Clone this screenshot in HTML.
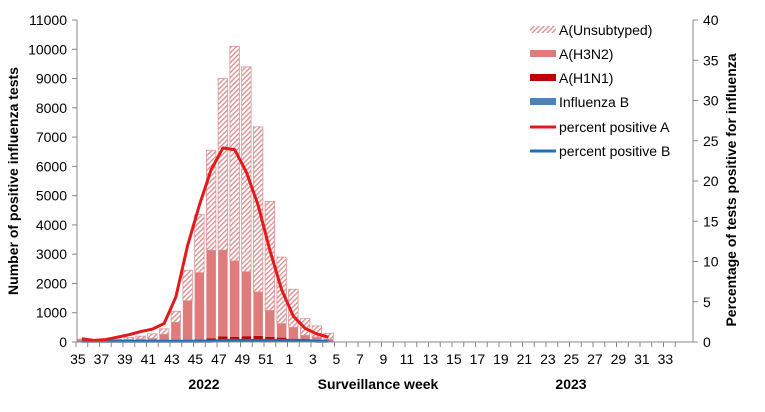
<!DOCTYPE html>
<html><head><meta charset="utf-8"><style>
body{margin:0;background:#fff;}
svg text{font-family:"Liberation Sans",Arial,sans-serif;}
</style></head><body>
<svg id="chart" width="765" height="407" xmlns="http://www.w3.org/2000/svg">
<defs><pattern id="hatch" width="3.5" height="3.5" patternUnits="userSpaceOnUse" patternTransform="rotate(45)"><rect width="3.5" height="3.5" fill="#fff"/><rect width="1.3" height="3.5" fill="#d98a8a"/></pattern></defs>
<g id="bars"></g>
<g id="lines"></g>
<g id="axes"></g>
<text x="18" y="181" font-size="14" font-weight="bold" text-anchor="middle" transform="rotate(-90 18 181)">Number of positive influenza tests</text>
<text x="736" y="190" font-size="14" font-weight="bold" text-anchor="middle" transform="rotate(-90 736 190)">Percentage of tests positive for influenza</text>
<text x="204" y="389" font-size="14" font-weight="bold" text-anchor="middle">2022</text>
<text x="378" y="389" font-size="14" font-weight="bold" text-anchor="middle">Surveillance  week</text>
<text x="571" y="389" font-size="14" font-weight="bold" text-anchor="middle">2023</text>
<g font-size="14">
<g><rect x="530" y="26" width="26" height="7" fill="url(#hatch)"/><text x="559" y="35">A(Unsubtyped)</text></g>
<g><rect x="530" y="50" width="26" height="7" fill="#e07b7b"/><text x="559" y="59">A(H3N2)</text></g>
<g><rect x="530" y="74" width="26" height="7" fill="#c00000"/><text x="559" y="83">A(H1N1)</text></g>
<g><rect x="530" y="98" width="26" height="7" fill="#4f81bd"/><text x="559" y="107">Influenza B</text></g>
<g><line x1="530" y1="127" x2="556" y2="127" stroke="#e31a1c" stroke-width="3"/><text x="559" y="132">percent positive A</text></g>
<g><line x1="530" y1="151" x2="556" y2="151" stroke="#1f6fb4" stroke-width="3"/><text x="559" y="156">percent positive B</text></g>
</g>
</svg>
<script>
const weeks=[35,36,37,38,39,40,41,42,43,44,45,46,47,48,49,50,51,52,1,2,3,4,5,6,7,8,9,10,11,12,13,14,15,16,17,18,19,20,21,22,23,24,25,26,27,28,29,30,31,32,33,34];
const totalPos=[100,50,80,100,150,200,280,450,1050,2450,4350,6550,9000,10100,9400,7350,4800,2900,1800,800,550,300];
const h3n2=[40,20,30,40,50,70,80,220,620,1350,2280,3000,2950,2600,2200,1500,900,480,400,170,120,50];
const h1n1=[10,5,5,5,5,5,10,10,20,30,50,80,130,110,140,150,120,90,50,20,10,5];
const fluB=[30,30,30,30,30,30,30,30,30,30,40,50,60,60,60,60,60,60,50,40,40,40];
const pctA=[0.4,0.2,0.3,0.6,0.9,1.3,1.6,2.3,5.6,12,17,21.4,24.1,23.9,21.1,17,11.4,6.5,3.2,1.7,1.0,0.6];
const pctB=[0.1,0.1,0.1,0.1,0.1,0.1,0.1,0.1,0.1,0.1,0.1,0.1,0.2,0.2,0.2,0.2,0.2,0.2,0.2,0.2,0.1,0.1];
const leftTicks=[0,1000,2000,3000,4000,5000,6000,7000,8000,9000,10000,11000];
const rightTicks=[0,5,10,15,20,25,30,35,40];
const NS="http://www.w3.org/2000/svg";
const X0=76,STEP=11.75,Y0=342,YT=20,X1=693;
const xc=i=>X0+(i+0.5)*STEP;
const yL=v=>Y0-v/11000*(Y0-YT);
const yR=v=>Y0-v/40*(Y0-YT);
function mk(tag,attrs,parent){const e=document.createElementNS(NS,tag);for(const k in attrs)e.setAttribute(k,attrs[k]);parent.appendChild(e);return e;}
const bars=document.getElementById('bars'),lines=document.getElementById('lines'),axes=document.getElementById('axes');
const bw=9.5;
for(let i=0;i<totalPos.length;i++){
  const segs=[[fluB[i],'#4f81bd','bar-influenza-b'],[h1n1[i],'#c00000','bar-h1n1'],[h3n2[i],'#e07b7b','bar-h3n2'],[Math.max(0,totalPos[i]-fluB[i]-h1n1[i]-h3n2[i]),'url(#hatch)','bar-unsubtyped']];
  let base=0;
  for(const s of segs){
    const r=mk('rect',{x:xc(i)-bw/2,y:yL(base+s[0]),width:bw,height:yL(base)-yL(base+s[0]),fill:s[1]},bars);
    if(s[2]==='bar-unsubtyped'){r.setAttribute('stroke','#d99594');r.setAttribute('stroke-width','0.8');}
    
    
    base+=s[0];
  }
}
function poly(arr,color,name){
  const p=mk('polyline',{points:arr.map((v,i)=>xc(i)+','+yR(v)).join(' '),fill:'none',stroke:color,'stroke-width':3,'stroke-linejoin':'round'},lines);
  
  
}
poly(pctB,'#1f6fb4','line-percent-b');
poly(pctA,'#e31a1c','line-percent-a');
mk('line',{x1:77,y1:YT,x2:77,y2:Y0,stroke:'#888'},axes);
mk('line',{x1:X1,y1:YT,x2:X1,y2:Y0,stroke:'#888'},axes);
mk('line',{x1:77,y1:Y0,x2:X1,y2:Y0,stroke:'#888'},axes);
leftTicks.forEach(v=>{mk('line',{x1:72,y1:yL(v),x2:77,y2:yL(v),stroke:'#888'},axes);
  const t=mk('text',{x:67,y:yL(v)+5,'font-size':14,'text-anchor':'end'},axes);t.textContent=v;
  
  });
rightTicks.forEach(v=>{mk('line',{x1:X1,y1:yR(v),x2:X1+5,y2:yR(v),stroke:'#888'},axes);
  const t=mk('text',{x:703,y:yR(v)+5,'font-size':14},axes);t.textContent=v;
  
  });
weeks.forEach((w,i)=>{const bx=X0+i*STEP;mk('line',{x1:bx,y1:Y0,x2:bx,y2:Y0+5,stroke:'#888'},axes);
  if(i%2===0){const t=mk('text',{x:xc(i)-4,y:364,'font-size':14,'text-anchor':'middle'},axes);t.textContent=w;
  
  }});
</script>
</body></html>
